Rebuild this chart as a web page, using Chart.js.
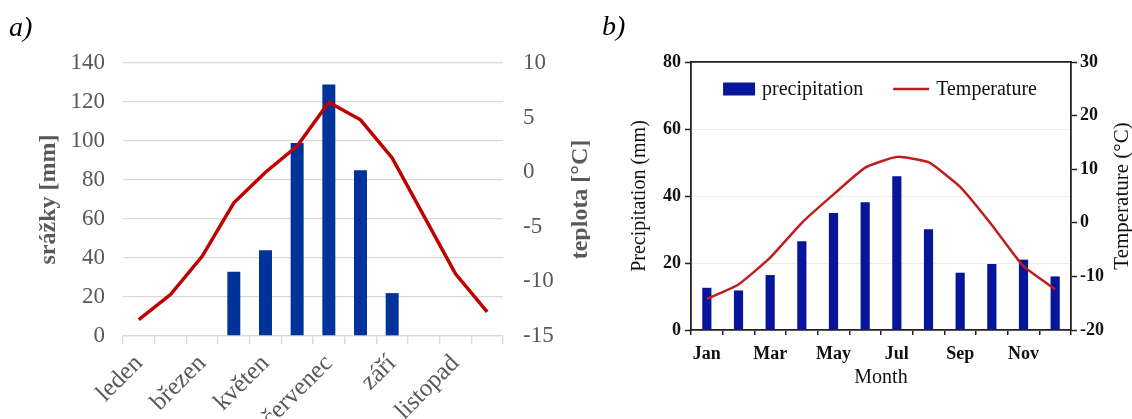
<!DOCTYPE html>
<html lang="cs">
<head>
<meta charset="UTF-8">
<title>Srážky a teplota</title>
<script src="https://cdn.jsdelivr.net/npm/chart.js"></script>
<style>
  html, body { margin: 0; padding: 0; background: #fff; }
  body { position: relative; width: 1132px; height: 419px; overflow: hidden; font-family: 'Liberation Serif', 'Times New Roman', serif; }
  .panel { position: absolute; top: 0; height: 419px; }
  #panelA { left: 0; width: 590px; }
  #panelB { left: 590px; width: 542px; }
  .tag { position: absolute; font-style: italic; font-size: 28px; color: #000; line-height: 1; }
  #tagA { left: 9px; top: 13px; }
  #tagB { left: 602px; top: 12px; }
</style>
</head>
<body>
<div class="panel" id="panelA"><canvas id="chartA"></canvas></div>
<div class="panel" id="panelB"><canvas id="chartB"></canvas></div>
<div class="tag" id="tagA">a)</div>
<div class="tag" id="tagB">b)</div>
<script>
// a) Czech station
const mesice = ['leden', 'únor', 'březen', 'duben', 'květen', 'červen', 'červenec', 'srpen', 'září', 'říjen', 'listopad', 'prosinec'];
const srazky = [0, 0, 0, 33, 44, 99, 129, 85, 22, 0, 0, 0];
const teplota = [-13.5, -11.2, -7.7, -2.8, 0.0, 2.4, 6.4, 4.8, 1.3, -4.0, -9.3, -12.8];

// b) monthly climate
const months = ['Jan', 'Feb', 'Mar', 'Apr', 'May', 'Jun', 'Jul', 'Aug', 'Sep', 'Oct', 'Nov', 'Dec'];
const precipitation = [12.6, 11.8, 16.4, 26.5, 34.9, 38.1, 45.9, 30.1, 17.1, 19.7, 21.0, 16.0];
const temperature = [-14.2, -11.5, -6.5, 0.0, 5.3, 10.3, 12.3, 11.3, 6.7, -0.4, -8.1, -12.4];

Chart.defaults.font.family = "'Liberation Serif', 'Times New Roman', serif";
Chart.defaults.animation = false;

// right-hand axis titles read bottom-to-top, like the left ones
const sideTitle = {
  id: 'sideTitle',
  afterDraw(chart, args, opts) {
    const { ctx, chartArea } = chart;
    ctx.save();
    ctx.translate(opts.x, (chartArea.top + chartArea.bottom) / 2);
    ctx.rotate(-Math.PI / 2);
    ctx.font = opts.font;
    ctx.fillStyle = opts.color;
    ctx.textAlign = 'center';
    ctx.textBaseline = 'middle';
    ctx.fillText(opts.text, 0, 0);
    ctx.restore();
  }
};

// legend drawn inside the plot area (chart b)
const innerLegend = {
  id: 'innerLegend',
  afterDraw(chart, args, opts) {
    const { ctx, chartArea } = chart;
    const ds = chart.data.datasets;
    ctx.save();
    ctx.font = opts.font;
    ctx.textBaseline = 'middle';
    const boxW = 32, gap = 7, itemGap = 30;
    const widths = ds.map(d => boxW + gap + ctx.measureText(d.label).width);
    const total = widths.reduce((a, b) => a + b, 0) + itemGap * (ds.length - 1);
    let x = (chartArea.left + chartArea.right) / 2 - total / 2 + opts.shift;
    const y = chartArea.top + opts.offsetY;
    ds.forEach((d, i) => {
      if (d.type === 'line') {
        ctx.strokeStyle = d.borderColor;
        ctx.lineWidth = d.borderWidth;
        ctx.beginPath();
        ctx.moveTo(x, y);
        ctx.lineTo(x + boxW + 4, y);
        ctx.stroke();
      } else {
        ctx.fillStyle = d.backgroundColor;
        ctx.fillRect(x, y - 6.5, boxW, 13);
      }
      ctx.fillStyle = opts.color;
      ctx.fillText(d.label, x + boxW + gap + (d.type === 'line' ? 4 : 0), y + 1);
      x += widths[i] + itemGap;
    });
    ctx.restore();
  }
};

const grayA = '#595959';
const gridA = '#d9d9d9';

new Chart(document.getElementById('chartA'), {
  type: 'bar',
  data: {
    labels: mesice,
    datasets: [
      {
        type: 'line',
        label: 'teplota',
        data: teplota,
        yAxisID: 'y1',
        borderColor: '#c00000',
        borderWidth: 3.5,
        pointRadius: 0,
        tension: 0,
        fill: false,
        order: 0
      },
      {
        type: 'bar',
        label: 'srážky',
        data: srazky,
        yAxisID: 'y',
        backgroundColor: '#003399',
        barPercentage: 0.41,
        categoryPercentage: 1,
        order: 1
      }
    ]
  },
  options: {
    responsive: true,
    maintainAspectRatio: false,
    layout: { padding: { top: 63, left: 0, right: 0, bottom: 0 } },
    plugins: {
      legend: { display: false },
      tooltip: { enabled: false },
      sideTitle: { text: 'teplota [°C]', x: 581, font: "bold 24px 'Liberation Serif'", color: grayA }
    },
    scales: {
      x: {
        offset: true,
        grid: { offset: true, drawOnChartArea: false, drawTicks: true, tickLength: 8, color: gridA, lineWidth: 1.3 },
        border: { display: true, color: gridA, width: 1.3 },
        ticks: {
          autoSkip: false,
          maxRotation: 45,
          minRotation: 45,
          padding: 5,
          color: grayA,
          font: { size: 25 },
          callback: (v, i) => (i % 2 ? '' : mesice[i])
        },
        afterFit: s => { s.height = 83; }
      },
      y: {
        position: 'left',
        min: 0,
        max: 140,
        ticks: { stepSize: 20, color: grayA, font: { size: 23 }, padding: 18 },
        grid: { color: gridA, lineWidth: 1.3, drawTicks: false },
        border: { display: false },
        title: { display: true, text: 'srážky [mm]', color: grayA, font: { size: 24, weight: 'bold' }, padding: { top: 34, bottom: 0 } },
        afterFit: s => { s.width = 123; }
      },
      y1: {
        position: 'right',
        min: -15,
        max: 10,
        ticks: { stepSize: 5, color: grayA, font: { size: 23 }, padding: 20 },
        grid: { drawOnChartArea: false, drawTicks: false },
        border: { display: false },
        afterFit: s => { s.width = 87; }
      }
    }
  },
  plugins: [sideTitle]
});

const ink = '#111';
const axisB = '#222';

new Chart(document.getElementById('chartB'), {
  type: 'bar',
  data: {
    labels: months,
    datasets: [
      {
        type: 'bar',
        label: 'precipitation',
        data: precipitation,
        xAxisID: 'x',
        yAxisID: 'y',
        backgroundColor: '#06159a',
        barPercentage: 0.29,
        categoryPercentage: 1,
        order: 1
      },
      {
        type: 'line',
        label: 'Temperature',
        data: temperature,
        xAxisID: 'x',
        yAxisID: 'y1',
        borderColor: '#bf1e1e',
        borderWidth: 2.5,
        pointRadius: 0,
        tension: 0.15,
        fill: false,
        order: 0
      }
    ]
  },
  options: {
    responsive: true,
    maintainAspectRatio: false,
    layout: { padding: { top: 62, left: 0, right: 0, bottom: 0 } },
    plugins: {
      legend: { display: false },
      tooltip: { enabled: false },
      sideTitle: { text: 'Temperature (°C)', x: 532, font: "21px 'Liberation Serif'", color: ink },
      innerLegend: { font: "20px 'Liberation Serif'", color: ink, offsetY: 27, shift: -3 }
    },
    scales: {
      x: {
        position: 'bottom',
        offset: true,
        grid: { offset: true, drawOnChartArea: false, drawTicks: true, tickLength: 5, color: axisB, lineWidth: 1.5 },
        border: { display: true, color: axisB, width: 1.8 },
        ticks: {
          autoSkip: false,
          maxRotation: 0,
          minRotation: 0,
          padding: 9,
          color: ink,
          font: { size: 18, weight: 'bold' },
          callback: (v, i) => (i % 2 ? '' : months[i])
        },
        title: { display: true, text: 'Month', color: ink, font: { size: 20 }, padding: { top: 0, bottom: 29 } },
        afterFit: s => { s.height = 89; }
      },
      xTop: {
        type: 'category',
        position: 'top',
        offset: true,
        ticks: { display: false },
        grid: { display: false, drawTicks: false },
        border: { display: true, color: axisB, width: 1.8 },
        afterFit: s => { s.height = 0; }
      },
      y: {
        position: 'left',
        min: 0,
        max: 80,
        ticks: { stepSize: 20, color: ink, font: { size: 18, weight: 'bold' }, padding: 4 },
        grid: { color: '#ececec', lineWidth: 1, drawTicks: true, tickLength: 6, tickColor: axisB, tickWidth: 1.5 },
        border: { display: true, color: axisB, width: 1.8 },
        title: { display: true, text: 'Precipitation (mm)', color: ink, font: { size: 20 }, padding: { top: 38, bottom: 0 } },
        afterFit: s => { s.width = 101; }
      },
      y1: {
        position: 'right',
        min: -20,
        max: 30,
        ticks: { stepSize: 10, color: ink, font: { size: 18, weight: 'bold' }, padding: 3 },
        grid: { drawOnChartArea: false, drawTicks: true, tickLength: 6, color: axisB, tickColor: axisB, tickWidth: 1.5 },
        border: { display: true, color: axisB, width: 1.8 },
        afterFit: s => { s.width = 61; }
      }
    }
  },
  plugins: [sideTitle, innerLegend]
});
</script>
</body>
</html>
